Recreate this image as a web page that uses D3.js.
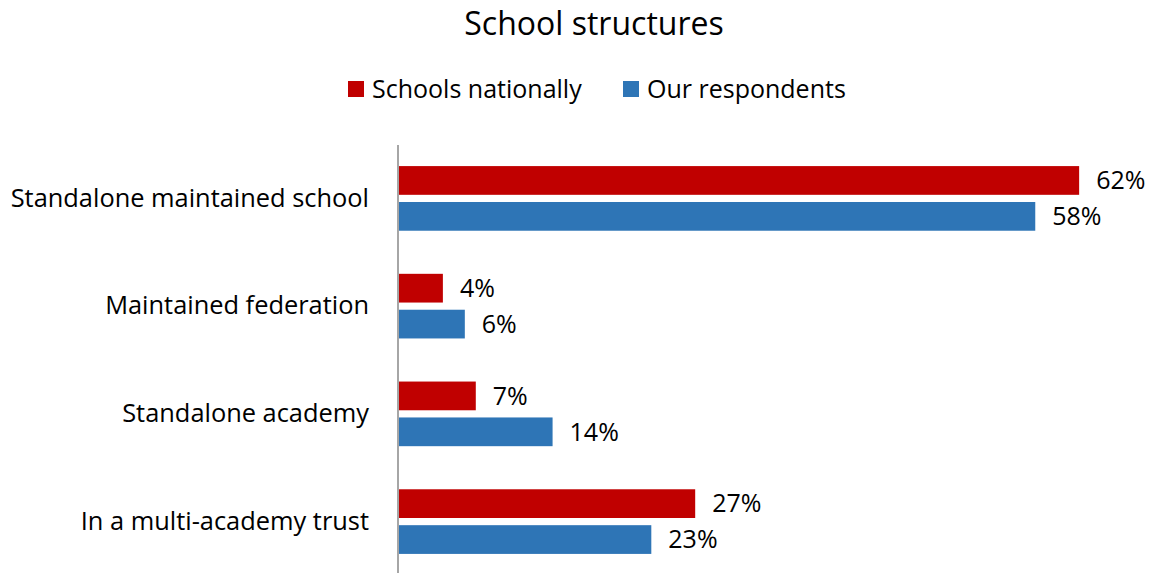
<!DOCTYPE html>
<html>
<head>
<meta charset="utf-8">
<script src="https://cdn.jsdelivr.net/npm/d3@7"></script>
<style>
  html, body { margin: 0; padding: 0; background: #fff; }
  svg { display: block; font-family: "Open Sans", Lato, sans-serif; }
</style>
</head>
<body>
<svg id="chart" width="1154" height="573"></svg>
<script>
const categories = [
  "Standalone maintained school",
  "Maintained federation",
  "Standalone academy",
  "In a multi-academy trust"
];
const seriesNames = ["Schools nationally", "Our respondents"];
const schoolsNationally = [62, 4, 7, 27];
const ourRespondents = [58, 6, 14, 23];
const seriesColors = ["#C00000", "#2E75B6"];

const rows = categories.map((c, i) => ({
  category: c,
  values: [
    { series: seriesNames[0], value: schoolsNationally[i] },
    { series: seriesNames[1], value: ourRespondents[i] }
  ]
}));

const svg = d3.select("#chart");
const W = 1154, H = 573;
const x0 = 399;

const x = d3.scaleLinear().domain([0, 70]).range([x0, x0 + 767.9]);
const y = d3.scaleBand().domain(categories).range([123, 597])
  .paddingInner(0.4).paddingOuter(0.4);
const ySub = d3.scaleBand().domain(seriesNames).range([0, y.bandwidth()])
  .paddingInner(0.2);
const color = d3.scaleOrdinal().domain(seriesNames).range(seriesColors);

// Title
svg.append("text")
  .attr("x", 594).attr("y", 35)
  .attr("text-anchor", "middle")
  .attr("font-size", 32)
  .attr("fill", "#000")
  .text("School structures");

// Legend
const legendItems = [
  { name: seriesNames[0], x: 348 },
  { name: seriesNames[1], x: 623 }
];
const lg = svg.append("g");
legendItems.forEach(item => {
  lg.append("rect")
    .attr("x", item.x).attr("y", 81)
    .attr("width", 16).attr("height", 16)
    .attr("fill", color(item.name));
  lg.append("text")
    .attr("x", item.x + 24).attr("y", 89)
    .attr("dy", "0.35em")
    .attr("font-size", 25)
    .attr("fill", "#000")
    .text(item.name);
});

// Bars
const groups = svg.append("g").selectAll("g")
  .data(rows).join("g")
  .attr("transform", d => `translate(0,${y(d.category)})`);

groups.selectAll("rect")
  .data(d => d.values).join("rect")
  .attr("x", x(0))
  .attr("y", d => ySub(d.series))
  .attr("width", d => x(d.value) - x(0))
  .attr("height", ySub.bandwidth())
  .attr("fill", d => color(d.series));

groups.selectAll("text.value")
  .data(d => d.values).join("text")
  .attr("class", "value")
  .attr("x", d => x(d.value) + 17)
  .attr("y", d => ySub(d.series) + ySub.bandwidth() / 2)
  .attr("dy", "0.35em")
  .attr("font-size", 25)
  .attr("fill", "#000")
  .text(d => d.value + "%");

// Category axis
const yAxis = d3.axisLeft(y).tickSize(0).tickPadding(29);
const axisG = svg.append("g")
  .attr("transform", `translate(${x0 - 1},0)`)
  .call(yAxis);
axisG.select(".domain").remove();
axisG.selectAll("text")
  .attr("font-size", 25.4)
  .attr("font-family", "'Open Sans', Lato, sans-serif")
  .attr("fill", "#000");

svg.append("line")
  .attr("x1", x0 - 1).attr("x2", x0 - 1)
  .attr("y1", 145).attr("y2", H)
  .attr("stroke", "#A6A6A6")
  .attr("stroke-width", 2);
</script>
</body>
</html>
